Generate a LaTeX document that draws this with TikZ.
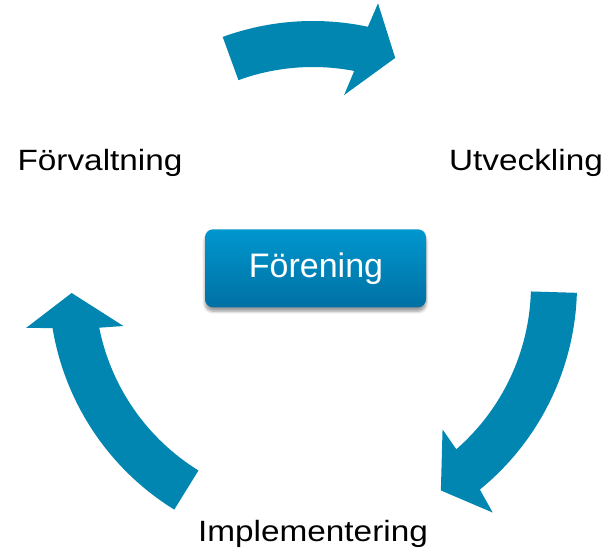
\documentclass[tikz,border=0pt]{standalone}
\usepackage{fontspec}
\usepackage{graphicx}
\setmainfont{Liberation Sans}
\usetikzlibrary{shadows.blur}
\definecolor{arrowblue}{HTML}{0086B0}
\definecolor{boxtop}{HTML}{0097CE}
\definecolor{boxbot}{HTML}{0070A3}
\tikzset{
  cyclearrow/.style={fill=arrowblue, draw=none},
  cyclelabel/.style={anchor=base, inner sep=0pt, text=black, font=\fontsize{25}{30}\selectfont},
  centerbox/.style={rectangle, rounded corners=6pt, minimum width=165.75pt, minimum height=58.5pt,
    top color=boxtop, bottom color=boxbot, draw=none,
    blur shadow={shadow xshift=0pt, shadow yshift=-3pt, shadow blur steps=6, shadow opacity=40}},
  centertext/.style={anchor=base, inner sep=0pt, text=white, font=\fontsize{25.5}{30}\selectfont}
}
\begin{document}
\begin{tikzpicture}[x=0.75pt, y=0.75pt]
\useasboundingbox (0,0) rectangle (614,551);
\begin{scope}[shift={(313,266)}]
  % top arrow
  \fill[cyclearrow] (110:264) arc[start angle=110, end angle=78, radius=264]
    -- (77:289) -- (70.1:241.5) -- (80.7:192.5) -- (79.1:218)
    arc[start angle=79.1, end angle=110, radius=218] -- cycle;
  % right arrow
  \fill[cyclearrow] (-1.7:264) arc[start angle=-1.7, end angle=-50.8, radius=264]
    -- (-51.7:290) -- (-58.1:242) -- (-48.1:194) -- (-48.9:218)
    arc[start angle=-48.9, end angle=-1.7, radius=218] -- cycle;
  % left arrow
  \fill[cyclearrow] (238.3:264) arc[start angle=238.3, end angle=189.4, radius=264]
    -- (188.5:290) -- (181.9:241.5) -- (192.2:194) -- (191.3:218)
    arc[start angle=191.3, end angle=238.3, radius=218] -- cycle;
\end{scope}
\node[cyclelabel] (forv) at (100,380.5) {\scalebox{1}[0.88]{Förvaltning}};
\node[cyclelabel] (utv) at (526,381) {\scalebox{1}[0.88]{Utveckling}};
\node[cyclelabel] (impl) at (313,10) {\scalebox{1}[0.88]{Implementering}};
\node[centerbox] (box) at (315.5,282.7) {};
\node[centertext] (forening) at (316,274) {Förening};
\end{tikzpicture}
\end{document}
